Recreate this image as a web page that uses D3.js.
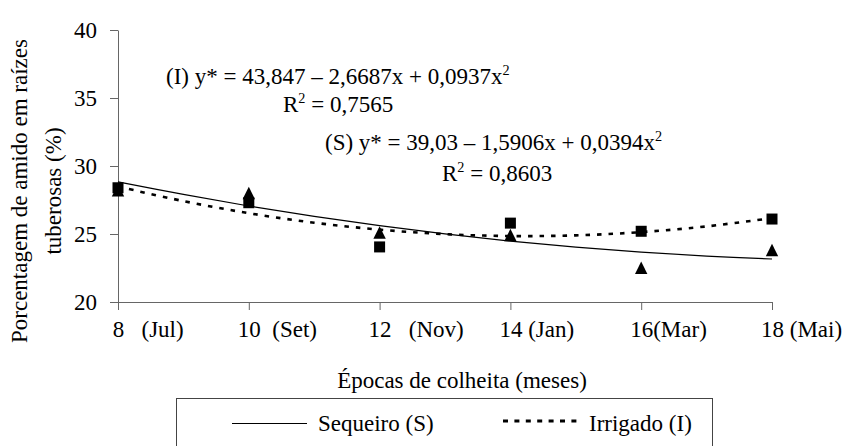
<!DOCTYPE html>
<html>
<head>
<meta charset="utf-8">
<script src="https://cdn.jsdelivr.net/npm/d3@7"></script>
<style>
  html, body { margin: 0; padding: 0; background: #fff; }
  svg { display: block; }
  text { font-family: "Liberation Serif", "Times New Roman", serif; fill: #000; }
</style>
</head>
<body>
<svg id="chart" width="845" height="446"></svg>
<script>
// ---- data ----
const months = [8, 10, 12, 14, 16, 18];
const xTickLabels = ["8   (Jul)", "10  (Set)", "12   (Nov)", "14 (Jan)", "16(Mar)", "18 (Mai)"];
const yTicks = [20, 25, 30, 35, 40];
const irrigado = [28.4, 27.3, 24.05, 25.8, 25.2, 26.1];   // squares (I)
const sequeiro = [28.2, 28.0, 25.1, 24.9, 22.5, 23.8];   // triangles (S)
const trendX = [8, 9, 10, 11, 12, 13, 14, 15, 16, 17, 18];
const trendS = [28.83, 27.91, 27.06, 26.30, 25.62, 25.01, 24.48, 24.04, 23.67, 23.38, 23.16];
const trendI = [28.49, 27.42, 26.53, 25.83, 25.32, 24.99, 24.85, 24.90, 25.14, 25.56, 26.17];
const eqI = "(I) y* = 43,847 \u2013 2,6687x + 0,0937x";
const r2Label = "R";
const r2IVal = " = 0,7565";
const eqS = "(S) y* = 39,03 \u2013 1,5906x + 0,0394x";
const r2SVal = " = 0,8603";
const yTitle = ["Porcentagem de amido em raízes", "tuberosas (%)"];
const xTitle = "Épocas de colheita (meses)";
const legendLabels = ["Sequeiro (S)", "Irrigado (I)"];

// ---- chart ----
const svg = d3.select("#chart");
const FS = 23;
const axisColor = "#666";

const x = d3.scaleLinear().domain([8, 18]).range([118, 772]);
const y = d3.scaleLinear().domain([20, 40]).range([302, 30]);

// y axis
const gy = svg.append("g").attr("transform", "translate(118,0)")
  .call(d3.axisLeft(y).tickValues(yTicks).tickSize(8).tickSizeOuter(0).tickPadding(13));
gy.select(".domain").attr("stroke", axisColor);
gy.selectAll(".tick line").attr("stroke", axisColor);
gy.selectAll(".tick text").attr("font-size", FS).attr("font-family", "Liberation Serif").attr("fill", "#000");

// x axis
const gx = svg.append("g").attr("transform", "translate(0,302)")
  .call(d3.axisBottom(x).tickValues(months).tickSize(8).tickSizeOuter(0)
    .tickFormat((d, i) => xTickLabels[i]));
gx.select(".domain").attr("stroke", axisColor);
gx.selectAll(".tick line").attr("stroke", axisColor);
gx.selectAll(".tick text")
  .attr("font-size", FS).attr("font-family", "Liberation Serif").attr("fill", "#000")
  .attr("xml:space", "preserve").style("white-space", "pre")
  .attr("text-anchor", "start")
  .attr("dy", null)
  .attr("y", 35)
  .each(function () {
    const lbl = this.textContent;
    const n = lbl.match(/^\d+/)[0].length;
    const w = this.getSubStringLength(0, n);
    d3.select(this).attr("x", -w / 2);
  });

// trend lines
const line = d3.line().curve(d3.curveCatmullRom)
  .x((d, i) => x(trendX[i])).y(d => y(d));
svg.append("path").datum(trendS).attr("d", line)
  .attr("fill", "none").attr("stroke", "#000").attr("stroke-width", 1.2);
svg.append("path").datum(trendI).attr("d", line)
  .attr("fill", "none").attr("stroke", "#000").attr("stroke-width", 2.6)
  .attr("stroke-dasharray", "4.5,7");

// markers
const tri = "M0,-6.5L6.2,6L-6.2,6Z";
svg.append("g").selectAll("path").data(sequeiro).join("path")
  .attr("d", tri)
  .attr("transform", (d, i) => `translate(${x(months[i])},${y(d)})`)
  .attr("fill", "#000");
svg.append("g").selectAll("rect").data(irrigado).join("rect")
  .attr("x", (d, i) => x(months[i]) - 5.5).attr("y", d => y(d) - 5.5)
  .attr("width", 11).attr("height", 11).attr("fill", "#000");

// equations
function supText(xp, yp, parts) {
  const t = svg.append("text").attr("x", xp).attr("y", yp).attr("font-size", FS);
  t.append("tspan").text(parts[0]);
  t.append("tspan").text("2").attr("font-size", FS * 0.62).attr("dy", -9);
  if (parts[1]) t.append("tspan").text(parts[1]).attr("dy", 9);
  return t;
}
supText(166, 84, [eqI]);
supText(283, 112, [r2Label, r2IVal]);
supText(325, 150, [eqS]);
supText(442, 181, [r2Label, r2SVal]);

// axis titles
const yt = svg.append("text").attr("font-size", FS).attr("text-anchor", "middle")
  .attr("transform", "translate(27,191) rotate(-90)");
yt.append("tspan").attr("x", 0).attr("y", 0).text(yTitle[0]);
yt.append("tspan").attr("x", 0).attr("y", 34).text(yTitle[1]);

svg.append("text").attr("x", 462).attr("y", 388).attr("font-size", FS)
  .attr("text-anchor", "middle").text(xTitle);

// legend
svg.append("rect").attr("x", 176.5).attr("y", 398.5).attr("width", 536).attr("height", 60)
  .attr("fill", "#fff").attr("stroke", "#444").attr("stroke-width", 1);
svg.append("line").attr("x1", 232).attr("x2", 307).attr("y1", 423.5).attr("y2", 423.5)
  .attr("stroke", "#000").attr("stroke-width", 1.2);
svg.append("text").attr("x", 318).attr("y", 431).attr("font-size", FS).text(legendLabels[0]);
svg.append("line").attr("x1", 503).attr("x2", 577).attr("y1", 421).attr("y2", 421)
  .attr("stroke", "#000").attr("stroke-width", 3).attr("stroke-dasharray", "5,6.4");
svg.append("text").attr("x", 589).attr("y", 431).attr("font-size", FS).text(legendLabels[1]);
</script>
</body>
</html>
